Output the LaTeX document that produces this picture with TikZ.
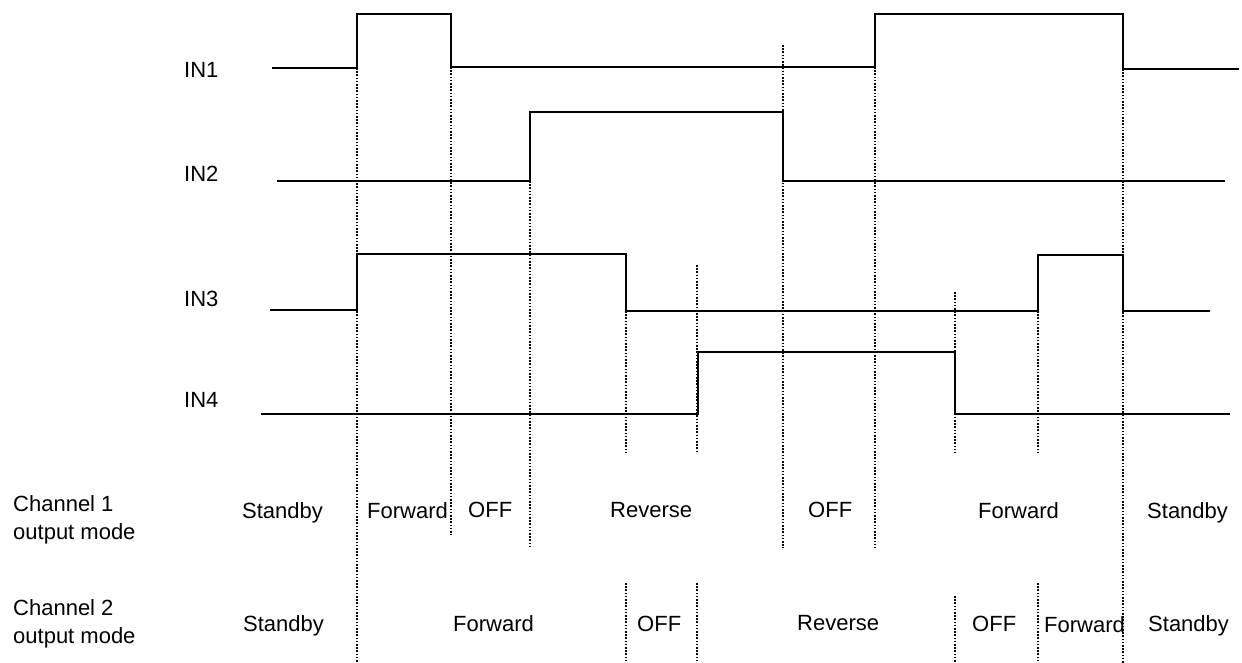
\documentclass[tikz,border=0pt]{standalone}
\usepackage{fontspec}
\setmainfont{Liberation Sans}
\begin{document}
\begin{tikzpicture}[x=1pt,y=-1pt,
  signal/.style={line width=1.8pt, line join=miter},
  guide/.style={line width=1.5pt, dash pattern=on 1.6pt off 1.6pt},
  lbl/.style={anchor=base west, inner sep=0pt, font=\fontsize{22}{27}\selectfont},
  chlbl/.style={anchor=base west, inner sep=0pt, align=left, font=\fontsize{22}{27.5}\selectfont}]
\useasboundingbox (0,0) rectangle (1242,663);
% signal labels
\node[lbl] (in1) at (184,78) {IN1};
\node[lbl] (in2) at (184,182) {IN2};
\node[lbl] (in3) at (184,306) {IN3};
\node[lbl] (in4) at (184,407) {IN4};
% waveforms
\draw[signal] (272,68) -- (357,68) -- (357,14) -- (451,14) -- (451,67) -- (875,67) -- (875,14) -- (1123,14) -- (1123,69) -- (1239,69);
\draw[signal] (277,181) -- (530,181) -- (530,112) -- (783,112) -- (783,181) -- (1225,181);
\draw[signal] (270,310) -- (357,310) -- (357,254) -- (626,254) -- (626,311) -- (1038,311) -- (1038,255) -- (1123,255) -- (1123,311) -- (1210,311);
\draw[signal] (261,414) -- (698,414) -- (698,352) -- (955,352) -- (955,414) -- (1230,414);
% dotted guides
\draw[guide] (357,68) -- (357,663);
\draw[guide] (451,67) -- (451,535);
\draw[guide] (530,181) -- (530,547);
\draw[guide] (626,311) -- (626,452);
\draw[guide] (626,583) -- (626,663);
\draw[guide] (697,265) -- (697,453);
\draw[guide] (697,583) -- (697,663);
\draw[guide] (783,45) -- (783,548);
\draw[guide] (875,67) -- (875,548);
\draw[guide] (955,292) -- (955,453);
\draw[guide] (955,596) -- (955,663);
\draw[guide] (1038,311) -- (1038,453);
\draw[guide] (1038,583) -- (1038,663);
\draw[guide] (1123,69) -- (1123,663);
% channel labels
\node[chlbl] (ch1) at (13,539) {Channel 1\\output mode};
\node[chlbl] (ch2) at (13,643) {Channel 2\\output mode};
% channel 1 modes
\node[lbl] (c1a) at (242,518) {Standby};
\node[lbl] (c1b) at (367,518) {Forward};
\node[lbl] (c1c) at (468,517) {OFF};
\node[lbl] (c1d) at (610,517) {Reverse};
\node[lbl] (c1e) at (808,517) {OFF};
\node[lbl] (c1f) at (978,518) {Forward};
\node[lbl] (c1g) at (1147,518) {Standby};
% channel 2 modes
\node[lbl] (c2a) at (243,631) {Standby};
\node[lbl] (c2b) at (453,631) {Forward};
\node[lbl] (c2c) at (637,631) {OFF};
\node[lbl] (c2d) at (797,630) {Reverse};
\node[lbl] (c2e) at (972,631) {OFF};
\node[lbl] (c2f) at (1044,632) {Forward};
\node[lbl] (c2g) at (1148,631) {Standby};
\end{tikzpicture}
\end{document}
